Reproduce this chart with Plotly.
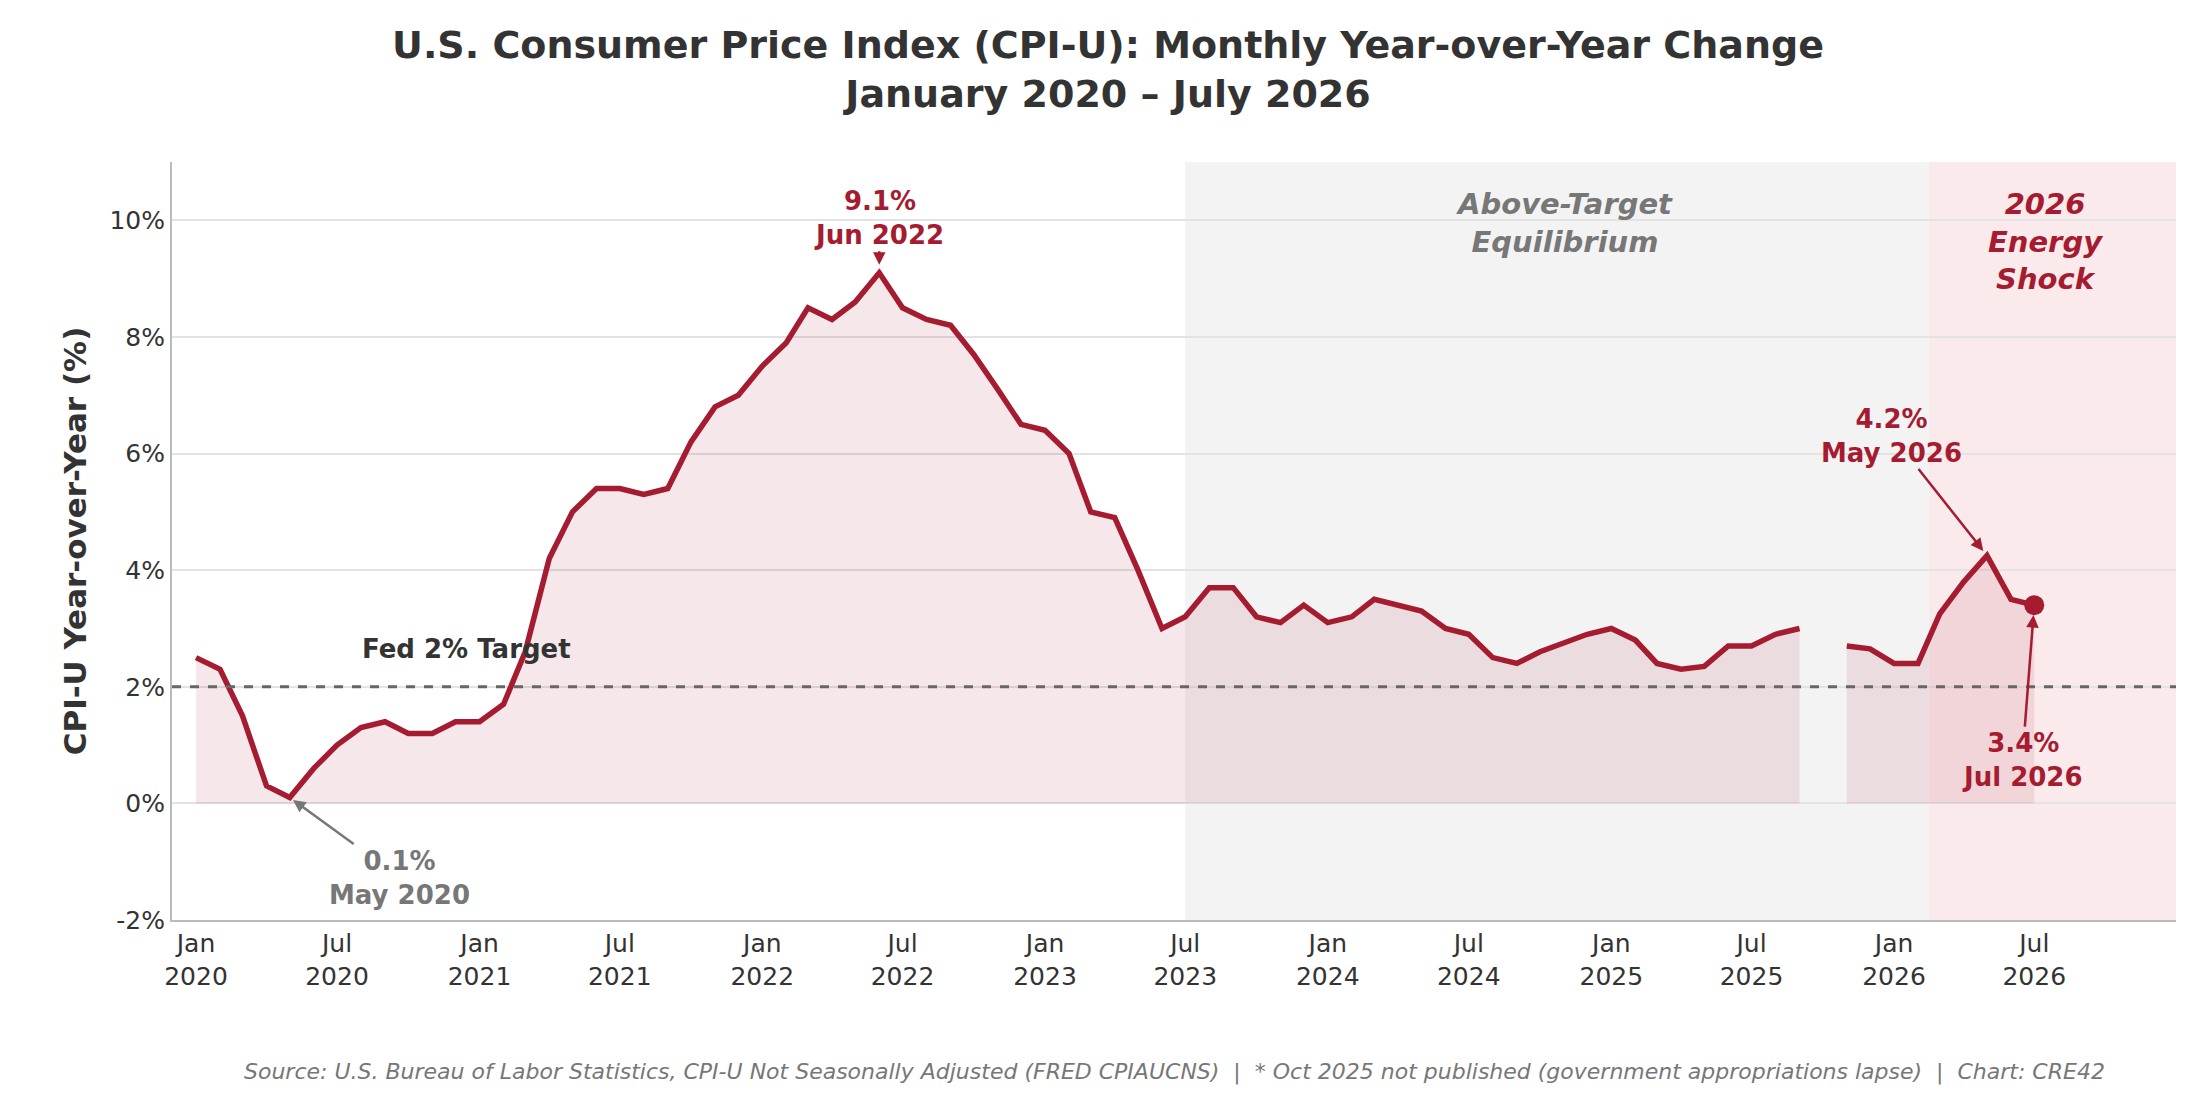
import plotly.graph_objects as go
import pandas as pd

# monthly CPI-U YoY % (Jan 2020 .. Jul 2026), Oct 2025 not published
months = pd.date_range("2020-01-01", "2026-07-01", freq="MS").strftime("%Y-%m-%d").tolist()
cpi = [
    2.5, 2.3, 1.5, 0.3, 0.1, 0.6, 1.0, 1.3, 1.4, 1.2, 1.2, 1.4,   # 2020
    1.4, 1.7, 2.6, 4.2, 5.0, 5.4, 5.4, 5.3, 5.4, 6.2, 6.8, 7.0,   # 2021
    7.5, 7.9, 8.5, 8.3, 8.6, 9.1, 8.5, 8.3, 8.2, 7.7, 7.1, 6.5,   # 2022
    6.4, 6.0, 5.0, 4.9, 4.0, 3.0, 3.2, 3.7, 3.7, 3.2, 3.1, 3.4,   # 2023
    3.1, 3.2, 3.5, 3.4, 3.3, 3.0, 2.9, 2.5, 2.4, 2.6, 2.75, 2.9,  # 2024
    3.0, 2.8, 2.4, 2.3, 2.35, 2.7, 2.7, 2.9, 3.0, None, 2.7, 2.65,  # 2025
    2.4, 2.4, 3.25, 3.8, 4.25, 3.5, 3.4,                        # 2026
]
tick_vals = pd.date_range("2020-01-01", "2026-07-01", freq="6MS").strftime("%Y-%m-%d").tolist()
tick_text = [pd.Timestamp(t).strftime("%b<br>%Y") for t in tick_vals]
y_ticks = [-2, 0, 2, 4, 6, 8, 10]

RED = "#A51C30"
GREY = "#777777"

gap = cpi.index(None)
segments = [(months[:gap], cpi[:gap]), (months[gap + 1:], cpi[gap + 1:])]

fig = go.Figure()

# shaded regimes
fig.add_vrect(x0="2023-07-01", x1="2026-02-15", fillcolor="#f3f3f3", line_width=0, layer="below")
fig.add_vrect(x0="2026-02-15", x1="2026-12-31", fillcolor="#fbeaeb", line_width=0, layer="below")

for xs, ys in segments:
    fig.add_trace(go.Scatter(
        x=xs, y=ys, mode="lines",
        line=dict(color=RED, width=5.5), fill="tozeroy",
        fillcolor="rgba(165,28,48,0.10)", showlegend=False))

fig.add_trace(go.Scatter(
    x=[months[-1]], y=[cpi[-1]], mode="markers",
    marker=dict(color=RED, size=20), showlegend=False))

fig.add_hline(y=2, line=dict(color="#666666", width=3, dash="dash"))

bold = dict(family="DejaVu Sans", size=26, color=RED)
fig.add_annotation(x="2020-12-15", y=2.35, text="<b>Fed 2% Target</b>", showarrow=False,
                   yanchor="bottom", font=dict(family="DejaVu Sans", size=26, color="#333333"))
fig.add_annotation(x=months[29], y=9.1, ax=0, ay=-55, axref="pixel", ayref="pixel",
                   text="<b>9.1%<br>Jun 2022</b>", showarrow=True, arrowhead=2, arrowwidth=2.5,
                   arrowcolor=RED, font=bold, standoff=8)
fig.add_annotation(x=months[4], y=0.1, ax=110, ay=80, text="<b>0.1%<br>May 2020</b>",
                   showarrow=True, arrowhead=2, arrowwidth=2.5, arrowcolor=GREY,
                   font=dict(family="DejaVu Sans", size=26, color=GREY), standoff=4)
fig.add_annotation(x=months[76], y=4.25, ax=-95, ay=-120, text="<b>4.2%<br>May 2026</b>",
                   showarrow=True, arrowhead=2, arrowwidth=2.5, arrowcolor=RED, font=bold, standoff=6)
fig.add_annotation(x=months[78], y=3.4, ax=-12, ay=155, text="<b>3.4%<br>Jul 2026</b>",
                   showarrow=True, arrowhead=2, arrowwidth=2.5, arrowcolor=RED, font=bold, standoff=10)
fig.add_annotation(x="2024-11-01", y=10.6, text="<b><i>Above-Target<br>Equilibrium</i></b>",
                   showarrow=False, yanchor="top",
                   font=dict(family="DejaVu Sans", size=29, color=GREY))
fig.add_annotation(x="2026-07-15", y=10.6, text="<b><i>2026<br>Energy<br>Shock</i></b>",
                   showarrow=False, yanchor="top",
                   font=dict(family="DejaVu Sans", size=29, color=RED))

fig.add_annotation(xref="paper", yref="paper", x=0.5, y=-0.2, showarrow=False,
                   xanchor="center", yanchor="middle",
                   text="<i>Source: U.S. Bureau of Labor Statistics, CPI-U Not Seasonally Adjusted (FRED CPIAUCNS)  |  "
                        "* Oct 2025 not published (government appropriations lapse)  |  Chart: CRE42</i>",
                   font=dict(family="DejaVu Sans", size=22, color=GREY))

fig.update_layout(
    width=2200, height=1100,
    title=dict(text="<b>U.S. Consumer Price Index (CPI-U): Monthly Year-over-Year Change<br>January 2020 – July 2026</b>",
               x=0.5, xanchor="center", y=0.955, yanchor="top",
               font=dict(family="DejaVu Sans", size=38, color="#333333")),
    plot_bgcolor="white", paper_bgcolor="white",
    margin=dict(l=164, r=32, t=154, b=188),
    font=dict(family="DejaVu Sans", size=25, color="#333333"),
    xaxis=dict(range=["2019-12-01", "2026-12-31"], tickvals=tick_vals, ticktext=tick_text,
               showgrid=False, showline=True, linecolor="#bbbbbb", linewidth=2,
               ticks="outside", ticklen=0, tickfont=dict(size=25)),
    yaxis=dict(range=[-2, 11], tickvals=y_ticks, ticktext=[f"{v}%" for v in y_ticks],
               showgrid=True, gridcolor="#e3e3e3", gridwidth=2, zeroline=False,
               showline=True, linecolor="#bbbbbb", linewidth=2, tickfont=dict(size=25),
               title=dict(text="<b>CPI-U Year-over-Year (%)</b>", font=dict(size=31), standoff=14)),
)

fig.write_html("out.html")
